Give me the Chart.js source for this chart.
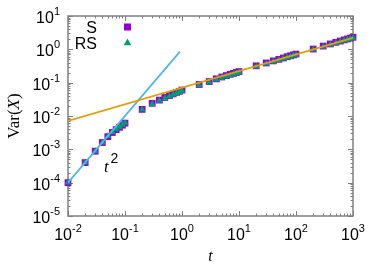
<!DOCTYPE html>
<html><head><meta charset="utf-8">
<script src="https://cdn.jsdelivr.net/npm/chart.js@4.4.1/dist/chart.umd.min.js"></script>
<style>html,body{margin:0;padding:0;background:#fff}#wrap{width:382px;height:267px}</style>
</head><body><div id="wrap"><canvas id="c" width="382" height="267"></canvas></div>
<script>
const times = [0.01,0.02,0.03,0.04,0.05,0.06,0.07,0.08,0.09,0.1,
  0.2,0.3,0.4,0.5,0.6,0.7,0.8,0.9,1,
  2,3,4,5,6,7,8,9,10,
  20,30,40,50,60,70,80,90,100,
  200,300,400,500,600,700,800,900,1000];
const varS = [1.0e-4,4.0e-4,8.8e-4,1.6e-3,2.4e-3,3.2e-3,3.9e-3,4.6e-3,5.3e-3,6.1e-3,
  0.0158,0.024,0.030,0.036,0.041,0.046,0.051,0.055,0.060,
  0.088,0.108,0.130,0.148,0.163,0.178,0.190,0.202,0.215,
  0.320,0.390,0.450,0.500,0.550,0.600,0.640,0.680,0.720,
  1.02,1.25,1.45,1.62,1.77,1.92,2.05,2.17,2.30];
const varRS = [1.0e-4,4.0e-4,8.8e-4,1.6e-3,2.5e-3,3.3e-3,4.0e-3,4.7e-3,5.4e-3,6.2e-3,
  0.0155,0.023,0.029,0.034,0.039,0.044,0.048,0.052,0.057,
  0.084,0.103,0.124,0.141,0.155,0.169,0.181,0.193,0.205,
  0.305,0.372,0.430,0.478,0.525,0.570,0.610,0.650,0.690,
  0.98,1.20,1.39,1.55,1.70,1.84,1.97,2.08,2.20];
const lineT2X = [0.01, 0.92];
const lineT2Y = [1.0e-4, 0.85];
const lineHalfX = [0.01, 1000];
const lineHalfY = [0.0071, 2.2];
const xTickExps = [-2,-1,0,1,2,3];
const yTickExps = [-5,-4,-3,-2,-1,0,1];
const legendNames = ['S','RS'];

const pts = (xs, ys) => xs.map((x,i)=>({x:x, y:ys[i]}));
const PURPLE='#9400d3', GREEN='#009e73', BLUE='#56b4e9', ORANGE='#e69f00', GRAY='#808080';
const SANS='"Liberation Sans", Arial, sans-serif', SERIF='"Liberation Serif", "Times New Roman", serif';

const deco = {
  id:'deco',
  beforeDatasetsDraw(chart){
    const ctx=chart.ctx, a=chart.chartArea, xs=chart.scales.x, ys=chart.scales.y;
    ctx.save();
    ctx.strokeStyle=GRAY; ctx.lineWidth=1.5;
    ctx.strokeRect(a.left, a.top, a.right-a.left, a.bottom-a.top);
    ctx.lineWidth=1;
    ctx.beginPath();
    for(let e=xTickExps[0]; e<=xTickExps[xTickExps.length-1]; e++){
      for(let m=1;m<=9;m++){
        const v=m*Math.pow(10,e); if(v>1000.0001) break;
        const p=Math.round(xs.getPixelForValue(v))+0.5; const L=(m===1)?5:2.5;
        ctx.moveTo(p,a.bottom); ctx.lineTo(p,a.bottom-L);
        ctx.moveTo(p,a.top); ctx.lineTo(p,a.top+L);
      }
    }
    for(let e=yTickExps[0]; e<=yTickExps[yTickExps.length-1]; e++){
      for(let m=1;m<=9;m++){
        const v=m*Math.pow(10,e); if(v>10.0001) break;
        const p=Math.round(ys.getPixelForValue(v))+0.5; const L=(m===1)?5:2.5;
        ctx.moveTo(a.left,p); ctx.lineTo(a.left+L,p);
        ctx.moveTo(a.right,p); ctx.lineTo(a.right-L,p);
      }
    }
    ctx.stroke();
    ctx.restore();
  },
  afterDatasetsDraw(chart){
    const ctx=chart.ctx, a=chart.chartArea, xs=chart.scales.x, ys=chart.scales.y;
    ctx.save();
    ctx.fillStyle='#000'; ctx.textBaseline='alphabetic';
    const big='16px '+SANS, small='11px '+SANS;
    xTickExps.forEach(e=>{
      const p=xs.getPixelForValue(Math.pow(10,e));
      ctx.font=big; const w1=ctx.measureText('10').width;
      ctx.font=small; const w2=ctx.measureText(String(e)).width;
      const x0=p-(w1+w2)/2;
      ctx.textAlign='left';
      ctx.font=big; ctx.fillText('10',x0,a.bottom+24);
      ctx.font=small; ctx.fillText(String(e),x0+w1,a.bottom+15.5);
    });
    yTickExps.forEach(e=>{
      const p=ys.getPixelForValue(Math.pow(10,e));
      ctx.font=small; const w2=ctx.measureText(String(e)).width;
      ctx.font=big; const w1=ctx.measureText('10').width;
      const xr=a.left-8;
      ctx.textAlign='left';
      ctx.font=big; ctx.fillText('10',xr-w2-w1,p+7);
      ctx.font=small; ctx.fillText(String(e),xr-w2,p-1);
    });
    ctx.font='italic 16px '+SERIF; ctx.textAlign='center';
    ctx.fillText('t',(a.left+a.right)/2,a.bottom+45);
    ctx.save();
    ctx.translate(19,(a.top+a.bottom)/2); ctx.rotate(-Math.PI/2);
    const parts=[['Var(','17px '+SERIF],['X','italic 17px '+SERIF],[')','17px '+SERIF]];
    let tw=0; parts.forEach(pp=>{ctx.font=pp[1]; tw+=ctx.measureText(pp[0]).width;});
    let cx=-tw/2; ctx.textAlign='left';
    parts.forEach(pp=>{ctx.font=pp[1]; ctx.fillText(pp[0],cx,0); cx+=ctx.measureText(pp[0]).width;});
    ctx.restore();
    ctx.textAlign='left';
    ctx.font='italic 17px '+SERIF; ctx.fillText('t',104,172);
    ctx.font='14px '+SANS; ctx.fillText('2',110.5,163);
    ctx.font='16px '+SANS; ctx.textAlign='right';
    ctx.fillText(legendNames[0],97,33);
    ctx.fillText(legendNames[1],97,49);
    ctx.fillStyle=PURPLE; ctx.fillRect(124,23.5,7,7);
    ctx.fillStyle=GREEN; ctx.beginPath();
    ctx.moveTo(127.5,38.5); ctx.lineTo(131.3,45.3); ctx.lineTo(123.7,45.3); ctx.closePath(); ctx.fill();
    ctx.restore();
  }
};

new Chart(document.getElementById('c'),{
  type:'scatter',
  data:{datasets:[
    {label:legendNames[0], data:pts(times,varS), pointStyle:'rect', pointRadius:4.8, backgroundColor:PURPLE, borderColor:PURPLE, borderWidth:0, order:3, clip:false},
    {label:legendNames[1], data:pts(times,varRS), pointStyle:'triangle', pointRadius:3.9, backgroundColor:GREEN, borderColor:GREEN, borderWidth:0, order:2, clip:false},
    {label:'t2', data:pts(lineT2X,lineT2Y), showLine:true, pointRadius:0, borderColor:BLUE, borderWidth:1.8, order:1},
    {label:'half', data:pts(lineHalfX,lineHalfY), showLine:true, pointRadius:0, borderColor:ORANGE, borderWidth:1.8, order:0}
  ]},
  options:{
    responsive:false, devicePixelRatio:1, animation:false,
    layout:{padding:{left:68,top:16,right:29,bottom:51}},
    plugins:{legend:{display:false}, tooltip:{enabled:false}},
    scales:{
      x:{type:'logarithmic', min:0.01, max:1000, display:false},
      y:{type:'logarithmic', min:1e-5, max:10, display:false}
    }
  },
  plugins:[deco]
});
</script></body></html>
